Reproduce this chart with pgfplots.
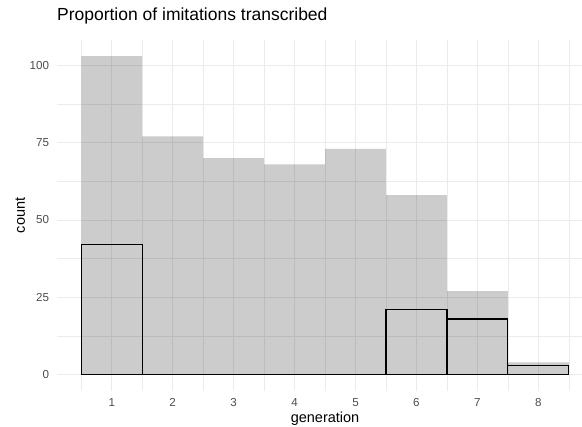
\documentclass[border=0pt]{standalone}
\usepackage{fontspec}
\setmainfont{Liberation Sans}
\usepackage{pgfplots}
\pgfplotsset{compat=1.18}
\begin{document}
\begin{tikzpicture}
\useasboundingbox (-56.9bp,-36.4bp) rectangle (525.1bp,390.6bp);
\begin{axis}[
  at={(0,0)}, anchor=south west,
  scale only axis,
  width=536.3bp, height=350.5bp,
  xmin=0.1, xmax=8.9, ymin=-5.15, ymax=108.15,
  axis line style={draw=none},
  tick style={draw=none},
  xtick={1,2,3,4,5,6,7,8},
  ytick={0,25,50,75,100},
  minor xtick={0.5,1.5,2.5,3.5,4.5,5.5,6.5,7.5,8.5},
  minor ytick={12.5,37.5,62.5,87.5},
  xmajorgrids=true, ymajorgrids=true,
  xminorgrids=true, yminorgrids=true,
  major grid style={color=black!8, line width=0.9bp},
  minor grid style={color=black!8, line width=0.6bp},
  /pgf/number format/assume math mode=true,
  ticklabel style={font=\fontsize{11.6bp}{13bp}\selectfont, text=black!70, inner sep=0pt},
  yticklabel style={anchor=east, xshift=-7.6bp},
  xticklabel style={anchor=north, yshift=-7.5bp},
  xlabel={generation},
  ylabel={count},
  label style={font=\fontsize{14.5bp}{16bp}\selectfont, inner sep=0pt},
  xlabel style={at={(axis description cs:0.5,-0.0896)}, anchor=base},
  ylabel style={at={(axis description cs:-0.0595,0.5)}, anchor=base, rotate=0},
  title={Proportion of imitations transcribed},
  title style={at={(axis description cs:0,1)}, anchor=base west, yshift=13.4bp, inner sep=0pt, font=\fontsize{17.5bp}{19bp}\selectfont},
]
\addplot[ybar interval, fill=black, fill opacity=0.2, draw=none]
  coordinates {(0.5,103) (1.5,77) (2.5,70) (3.5,68) (4.5,73) (5.5,58) (6.5,27) (7.5,4) (8.5,4)};
\addplot[ybar interval, fill=none, draw=black, line width=1.2bp]
  coordinates {(0.5,42) (1.5,0) (2.5,0) (3.5,0) (4.5,0) (5.5,21) (6.5,18) (7.5,3) (8.5,3)};
% zero-height bars (generations 2-5)
\addplot[black, line width=1.2bp, no marks] coordinates {(1.5,0) (5.5,0)};
\end{axis}
\end{tikzpicture}
\end{document}
